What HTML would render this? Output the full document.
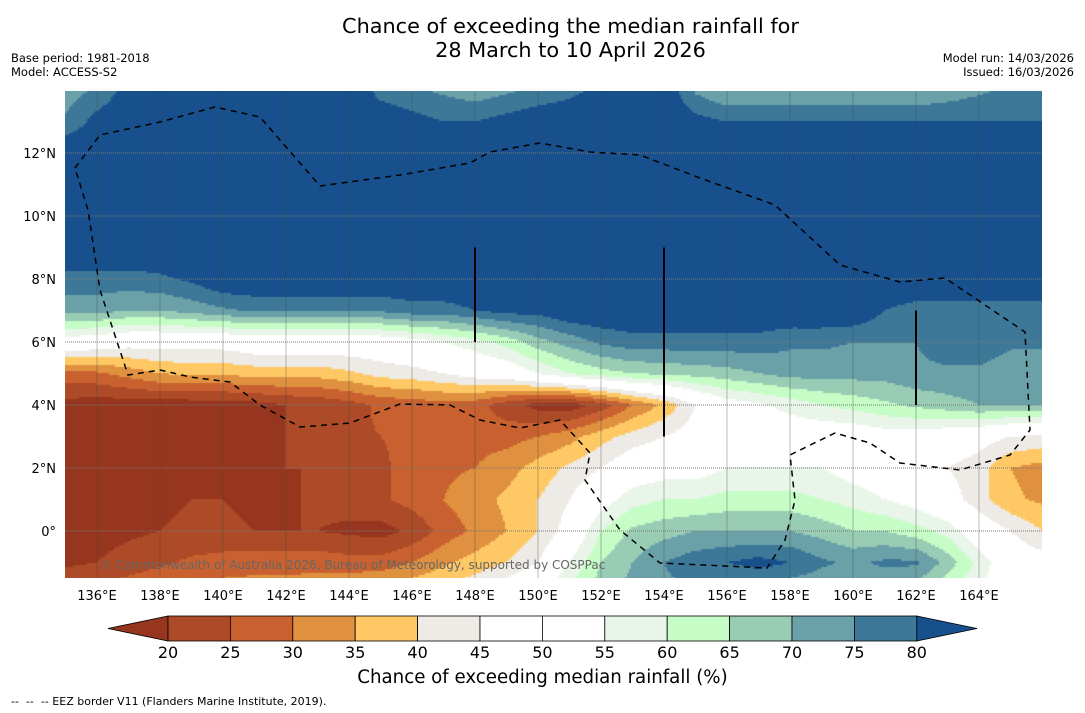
<!DOCTYPE html>
<html><head><meta charset="utf-8">
<style>
body{margin:0;width:1085px;height:713px;background:#fff;font-family:"DejaVu Sans","Liberation Sans",sans-serif;position:relative;overflow:hidden}
.t{position:absolute;white-space:nowrap;color:#000}
</style></head><body>
<div class="t" style="left:0;width:1141px;top:14px;text-align:center;font-size:20.8px;line-height:24px">Chance of exceeding the median rainfall for<br>28 March to 10 April 2026</div>
<div class="t" style="left:11px;top:51px;font-size:11.5px;line-height:14px">Base period: 1981-2018<br>Model: ACCESS-S2</div>
<div class="t" style="right:11px;top:51px;font-size:11.5px;line-height:14px;text-align:right">Model run: 14/03/2026<br>Issued: 16/03/2026</div>
<canvas id="map" width="977" height="487" style="position:absolute;left:65px;top:91px"></canvas>
<svg id="ov" width="1085" height="713" style="position:absolute;left:0;top:0"></svg>
<div class="t" style="left:100px;top:558px;font-size:12px;color:#666">© Commonwealth of Australia 2026, Bureau of Meteorology, supported by COSPPac</div>
<div class="t" style="left:0;width:1085px;text-align:center;top:667px;font-size:18.2px">Chance of exceeding median rainfall (%)</div>
<div class="t" style="left:11px;top:695px;font-size:11px">-- &nbsp;-- &nbsp;-- EEZ border V11 (Flanders Marine Institute, 2019).</div>
<script>
const lons=[135,136,137,138,139,140,141,142,143,144,145,146,147,148,149,150,151,152,153,154,155,156,157,158,159,160,161,162,163,164,165,166];
const lats=[14,13,12,11,10,9,8,7,6,5,4,3,2,1,0,-1,-2];
const r14=[72,76,82,85,85,85,85,85,85,85,78,76,74,72,74,76,78,82,85,85,74,70,70,70,70,70,70,70,72,74,76,76];
const r13=[76,82,85,85,85,85,85,85,85,85,84,82,80,80,82,84,85,85,85,85,82,80,80,80,80,80,80,80,80,80,80,80];
const r12=[85,85,85,85,85,85,85,85,85,85,85,85,85,85,85,85,85,85,85,85,85,85,85,85,85,85,85,85,84,83,82,82];
const r11=[82,85,85,85,85,85,85,85,85,85,85,85,85,85,85,85,85,85,85,85,85,85,85,85,85,85,85,85,85,85,85,85];
const r10=[82,85,85,85,85,85,85,85,85,85,85,85,85,85,85,85,85,85,85,85,85,85,85,85,85,85,85,85,85,85,85,85];
const r9=[85,85,85,85,85,85,85,85,85,85,85,85,85,85,85,85,85,85,85,85,85,85,85,85,85,85,85,85,85,85,85,85];
const r8=[78,78,78,79,81,85,85,85,85,85,85,85,85,85,85,85,85,85,85,85,85,85,85,85,85,85,85,85,85,85,85,85];
const r7=[72,72,70,70,72,74,76,76,76,76,76,78,78,80,82,82,85,85,85,85,85,85,85,85,85,85,80,78,78,78,78,78];
const r6=[52,50,48,48,48,48,50,50,50,50,50,52,55,58,62,68,72,76,78,78,78,78,78,76,76,75,75,75,78,78,76,76];
const r5=[28,29,32,35,36,36,37,37,37,39,42,43,45,48,50,55,60,63,65,66,67,68,70,72,72,72,72,74,74,74,72,72];
const r4=[18,17,17,17,17,17,18,20,21,23,26,27,28,27,22,18,17,22,30,36,45,52,54,57,60,62,64,66,68,70,70,70];
const r3=[17,17,17,17,17,17,18,20,22,24,25,26,27,28,28,30,33,38,42,45,48,50,50,50,50,50,52,52,50,48,45,44];
const r2=[17,17,17,17,17,18,18,20,20,22,24,27,29,30,33,37,41,45,50,52,52,55,55,55,55,52,50,48,45,42,35,33];
const r1=[18,18,18,19,20,20,19,19,21,22,24,27,30,33,36,40,45,52,58,60,60,62,62,62,60,58,55,52,48,42,36,34];
const r0=[18,18,19,20,21,21,20,20,20,19,18,21,27,31,35,40,48,60,66,68,70,70,70,70,68,65,65,62,58,50,45,40];
const rm1=[19,20,22,24,26,27,28,28,28,27,27,30,34,37,40,45,55,65,70,75,78,80,82,80,76,74,76,76,68,58,50,48];
const rm2=[26,27,29,31,33,33,33,33,34,36,38,40,42,45,50,55,62,68,72,74,74,72,72,70,70,70,70,66,60,55,50,48];
const grid=[r14,r13,r12,r11,r10,r9,r8,r7,r6,r5,r4,r3,r2,r1,r0,rm1,rm2];
const levels=[20,25,30,35,40,45,50,55,60,65,70,75,80];
const colors=["#97361e","#ad4a28","#c8612f","#e0913f","#fec965","#eeeae6","#ffffff","#ffffff","#e8f5e8","#c6fcc6","#99ccb4","#6aa0a8","#3e7898","#17508c"];
const xTicks=[136,138,140,142,144,146,148,150,152,154,156,158,160,162,164];
const yTicks=[0,2,4,6,8,10,12];
const PX=31.5;
function X(lon){return 97+(lon-136)*PX}
function Y(lat){return 531-lat*PX}
function val(lon,lat){
  let fi=(lon-135),fj=(14-lat);
  fi=Math.max(0,Math.min(30.999,fi));fj=Math.max(0,Math.min(15.999,fj));
  const i=Math.floor(fi),j=Math.floor(fj),a=fi-i,b=fj-j;
  return grid[j][i]*(1-a)*(1-b)+grid[j][i+1]*a*(1-b)+grid[j+1][i]*(1-a)*b+grid[j+1][i+1]*a*b;
}
function col(v){let k=0;while(k<levels.length&&v>=levels[k])k++;return colors[k]}
const cv=document.getElementById('map'),ctx=cv.getContext('2d');
const S=2;
for(let py=0;py<487;py+=S)for(let px=0;px<977;px+=S){
  const lon=136+(px+65+S/2-97)/PX,lat=(531-(py+91+S/2))/PX;
  ctx.fillStyle=col(val(lon,lat));ctx.fillRect(px,py,S,S);
}
const NS='http://www.w3.org/2000/svg',ov=document.getElementById('ov');
function el(t,a){const e=document.createElementNS(NS,t);for(const k in a)e.setAttribute(k,a[k]);ov.appendChild(e);return e}
xTicks.forEach(l=>{
  const g=el('line',{x1:X(l),x2:X(l),y1:91,y2:578,stroke:'#444','stroke-width':0.6,'stroke-opacity':0.6});
  
  
  const t=el('text',{x:X(l),y:600,'font-size':13,'text-anchor':'middle','font-family':'DejaVu Sans, sans-serif'});
  t.textContent=l+'°E';
  
  
});
yTicks.forEach(l=>{
  const g=el('line',{x1:65,x2:1042,y1:Y(l),y2:Y(l),stroke:'#777','stroke-width':1,'stroke-dasharray':'1,1'});
  
  
  const t=el('text',{x:56,y:Y(l)+5,'font-size':13,'text-anchor':'end','font-family':'DejaVu Sans, sans-serif'});
  t.textContent=l===0?'0°':l+'°N';
  
  
});
[[148,9,6],[154,9,3],[162,7,4]].forEach(s=>{
  const l=el('line',{x1:X(s[0]),x2:X(s[0]),y1:Y(s[1]),y2:Y(s[2]),stroke:'#000','stroke-width':2});
  
  
});
const eez="75,168 100,135 160,122 215,107 260,117 320,186 400,175 470,163 490,152 540,143 590,152 640,155 700,178 775,205 840,265 900,282 945,278 1025,332 1030,430 1010,455 960,470 900,463 870,443 835,433 800,450 790,455 795,500 785,540 767,568 660,563 620,530 585,480 590,453 560,420 520,428 480,420 450,405 400,404 350,423 300,427 260,405 230,382 190,377 160,370 128,375 100,290 88,210 75,168";
const e=el('polyline',{points:eez,fill:'none',stroke:'#000','stroke-width':1.5,'stroke-dasharray':'6,5'});


const cb0=168,cbw=62.4,cy=616,ch=25;
const lo=el('polygon',{points:`108,${cy+ch/2} ${cb0},${cy} ${cb0},${cy+ch}`,fill:colors[0],stroke:'#000','stroke-width':0.8});


for(let k=0;k<12;k++){
  const r=el('rect',{x:cb0+k*cbw,y:cy,width:cbw,height:ch,fill:colors[k+1],stroke:'#000','stroke-width':0.8});
  
  
}
const hi=el('polygon',{points:`${cb0+12*cbw},${cy} 977,${cy+ch/2} ${cb0+12*cbw},${cy+ch}`,fill:colors[13],stroke:'#000','stroke-width':0.8});


levels.forEach((v,k)=>{
  const t=el('text',{x:cb0+k*cbw,y:658,'font-size':16,'text-anchor':'middle','font-family':'DejaVu Sans, sans-serif'});
  t.textContent=v;
  
  
});
</script>
</body></html>
